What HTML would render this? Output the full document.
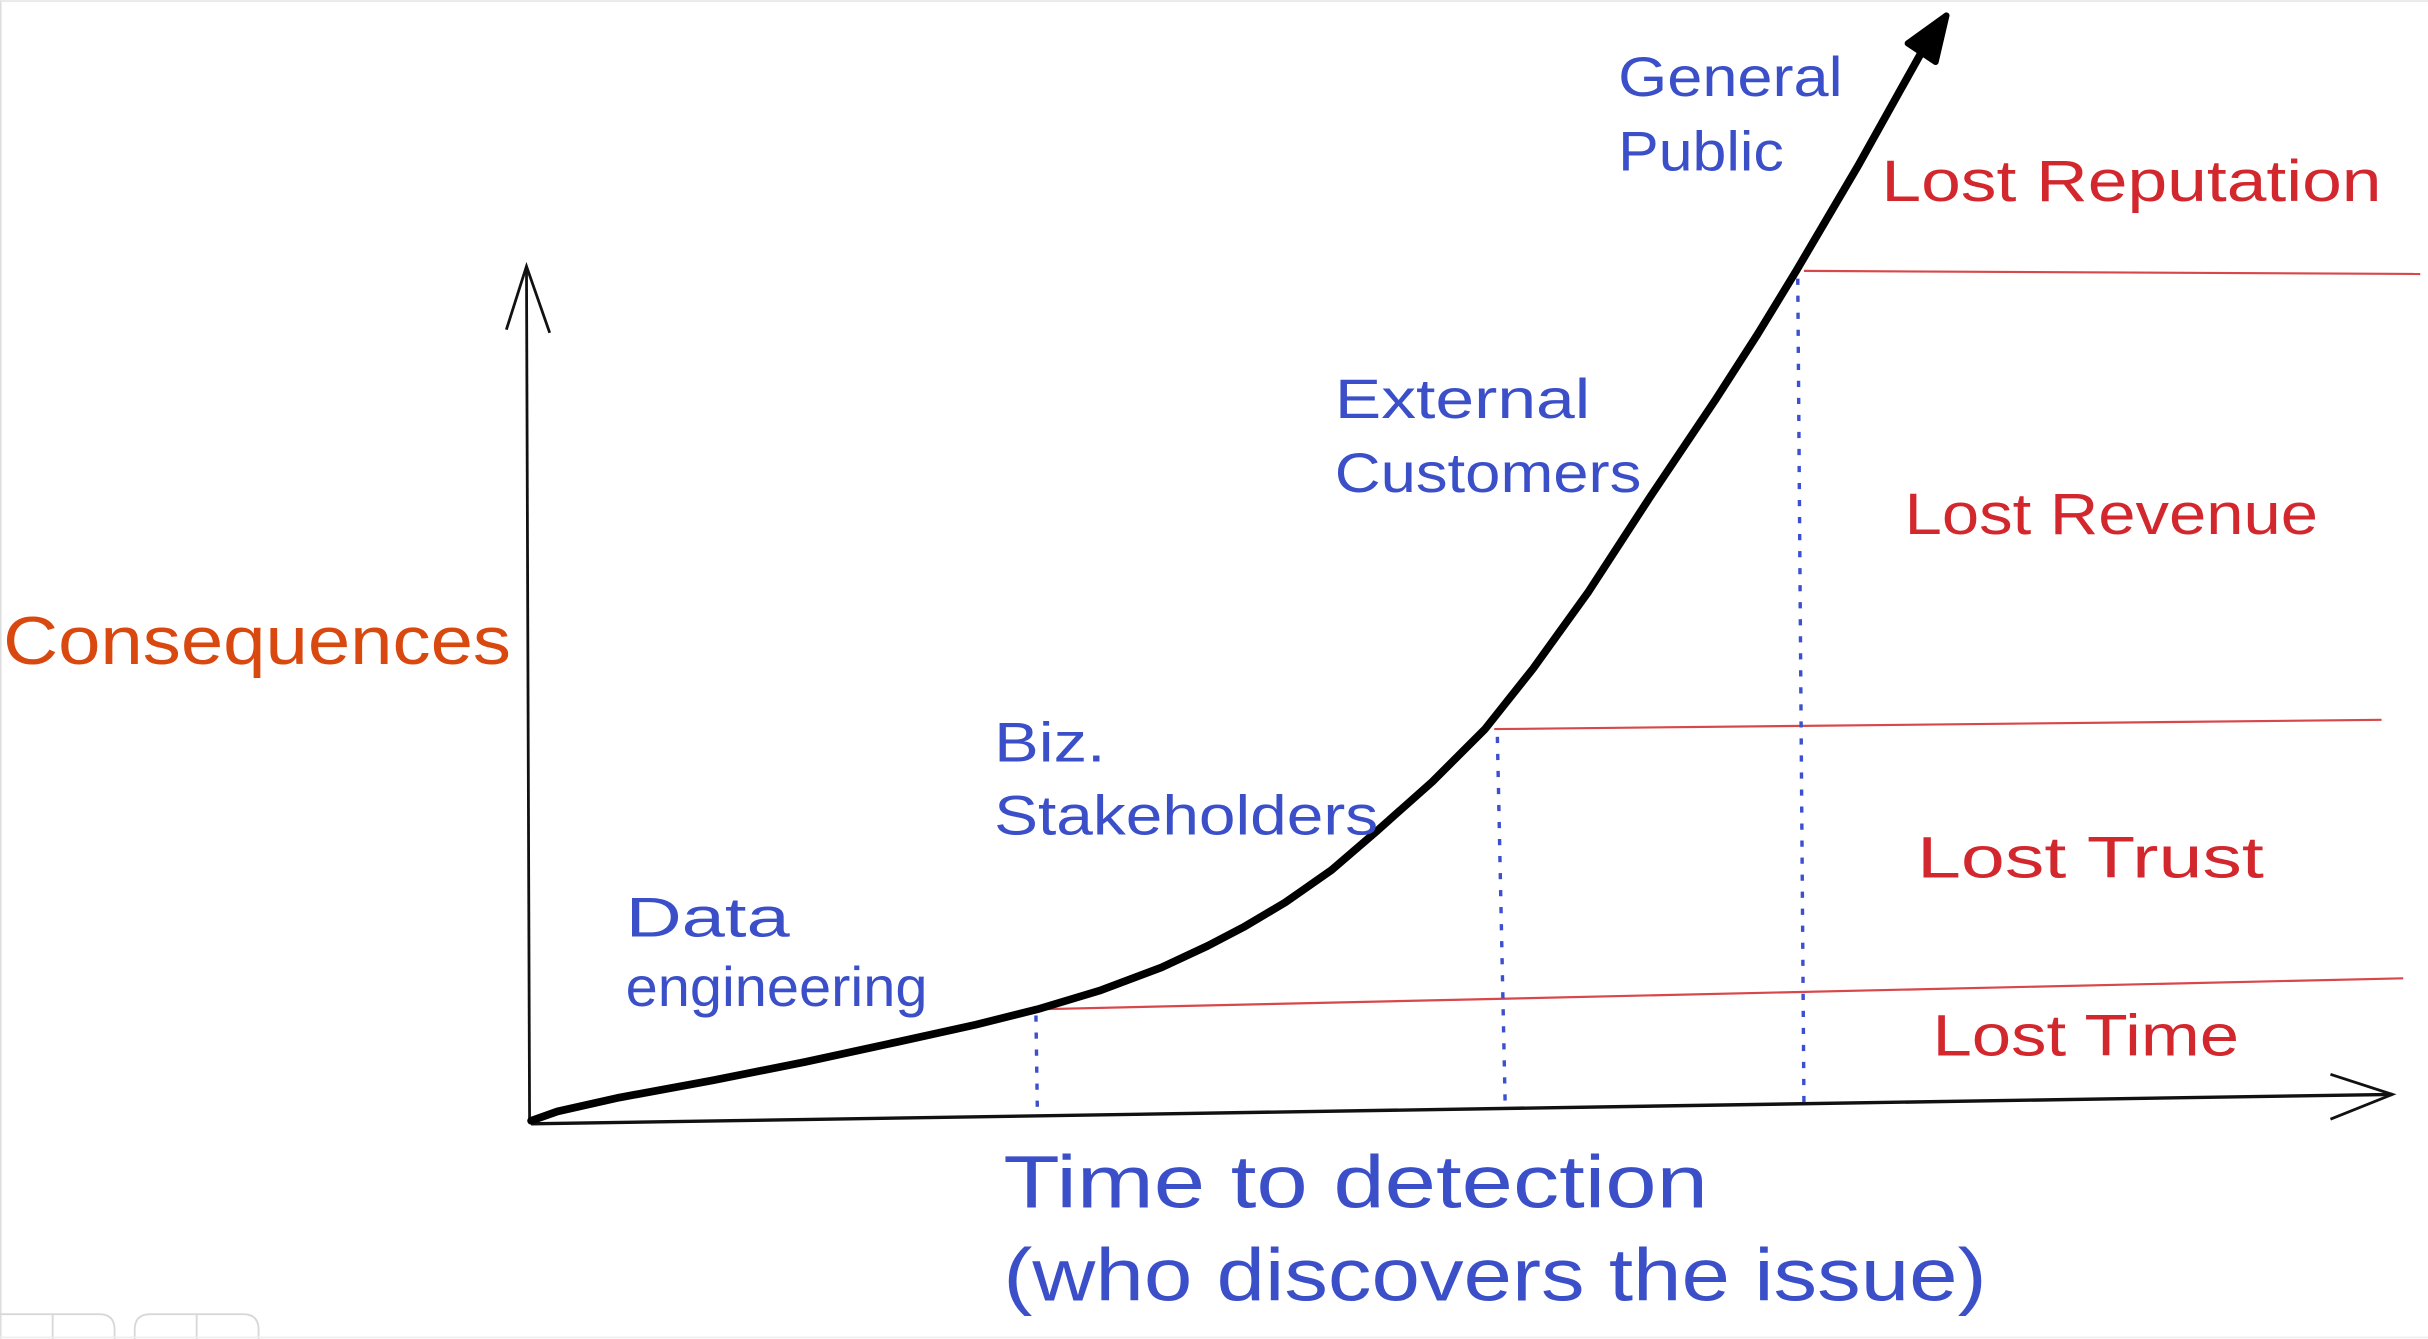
<!DOCTYPE html>
<html><head><style>
html,body{margin:0;padding:0;background:#fff;}
svg{display:block;}
text{font-family:"Liberation Sans Narrow","Liberation Sans",sans-serif;}
</style></head><body>
<svg width="2428" height="1339" viewBox="0 0 1568 865" preserveAspectRatio="none" xmlns="http://www.w3.org/2000/svg">
<rect width="1568" height="865" fill="#fff"/>
<line x1="0.5" y1="0" x2="0.5" y2="865" stroke="#ddd" stroke-width="1"/>
<line x1="0" y1="0.7" x2="1568" y2="0.7" stroke="#e6e6e6" stroke-width="1"/>
<path d="M0 849 H64 Q74 849 74 859 V865" fill="none" stroke="#d8d8d8" stroke-width="1.2"/>
<line x1="34" y1="849" x2="34" y2="865" stroke="#d8d8d8" stroke-width="1.2"/>
<path d="M87 865 V859 Q87 849 97 849 H157 Q167 849 167 859 V865" fill="none" stroke="#d8d8d8" stroke-width="1.2"/>
<line x1="127" y1="849" x2="127" y2="865" stroke="#d8d8d8" stroke-width="1.2"/>
<line x1="0" y1="864" x2="1568" y2="864" stroke="#eee" stroke-width="1"/>

<path d="M342 725 L340 172" stroke="#111" stroke-width="1.8" fill="none"/>
<path d="M327 213 L340 172 L355 215" stroke="#111" stroke-width="1.8" fill="none"/>
<path d="M343 726 L1545 707" stroke="#111" stroke-width="2.2" fill="none"/>
<path d="M1505 694 L1545 707 L1505 723" stroke="#111" stroke-width="1.8" fill="none"/>

<path d="M670 652 L1552 632" stroke="#d8474a" stroke-width="1.4"/>
<path d="M965 471 L1538 465" stroke="#d8474a" stroke-width="1.4"/>
<path d="M1165 175 L1563 177" stroke="#d8474a" stroke-width="1.4"/>

<g stroke="#3b4fd0" stroke-width="2.2" stroke-dasharray="4 7">
<line x1="669" y1="656" x2="670" y2="722"/>
<line x1="967" y1="476" x2="972" y2="712"/>
<line x1="1161" y1="180" x2="1165" y2="716"/>
</g>

<polyline points="343,724 360,718 400,709 460,698 520,686 580,673 630,662 670,652 710,640 750,625 780,611 803,599 830,583 860,562 889,537 925,505 959,471 990,432 1026,382 1065,322 1108,258 1135,216 1160,175 1200,107 1243,30" stroke="#000" stroke-width="5" fill="none" stroke-linecap="round" stroke-linejoin="round"/>
<path d="M1257 10 L1232 28 L1250 40 Z" fill="#000" stroke="#000" stroke-width="4" stroke-linejoin="round"/>

<g fill="#d9480f" font-size="44"><text x="2" y="429" textLength="328" lengthAdjust="spacingAndGlyphs">Consequences</text></g>
<g fill="#3a4fc8" font-size="36">
<text x="1045" y="62" textLength="145" lengthAdjust="spacingAndGlyphs">General</text>
<text x="1045" y="110" textLength="107" lengthAdjust="spacingAndGlyphs">Public</text>
<text x="862" y="270" textLength="165" lengthAdjust="spacingAndGlyphs">External</text>
<text x="862" y="318" textLength="198" lengthAdjust="spacingAndGlyphs">Customers</text>
<text x="642" y="492" textLength="72" lengthAdjust="spacingAndGlyphs">Biz.</text>
<text x="642" y="539" textLength="248" lengthAdjust="spacingAndGlyphs">Stakeholders</text>
<text x="404" y="605" textLength="106" lengthAdjust="spacingAndGlyphs">Data</text>
<text x="404" y="650" textLength="195" lengthAdjust="spacingAndGlyphs">engineering</text>
</g>
<g fill="#3a4fc8" font-size="48">
<text x="648" y="780" textLength="455" lengthAdjust="spacingAndGlyphs">Time to detection</text>
<text x="648" y="840" textLength="635" lengthAdjust="spacingAndGlyphs">(who discovers the issue)</text>
</g>
<g fill="#d3272e" font-size="38">
<text x="1215" y="130" textLength="323" lengthAdjust="spacingAndGlyphs">Lost Reputation</text>
<text x="1230" y="345" textLength="267" lengthAdjust="spacingAndGlyphs">Lost Revenue</text>
<text x="1238" y="567" textLength="224" lengthAdjust="spacingAndGlyphs">Lost Trust</text>
<text x="1248" y="682" textLength="198" lengthAdjust="spacingAndGlyphs">Lost Time</text>
</g>
</svg>
</body></html>
